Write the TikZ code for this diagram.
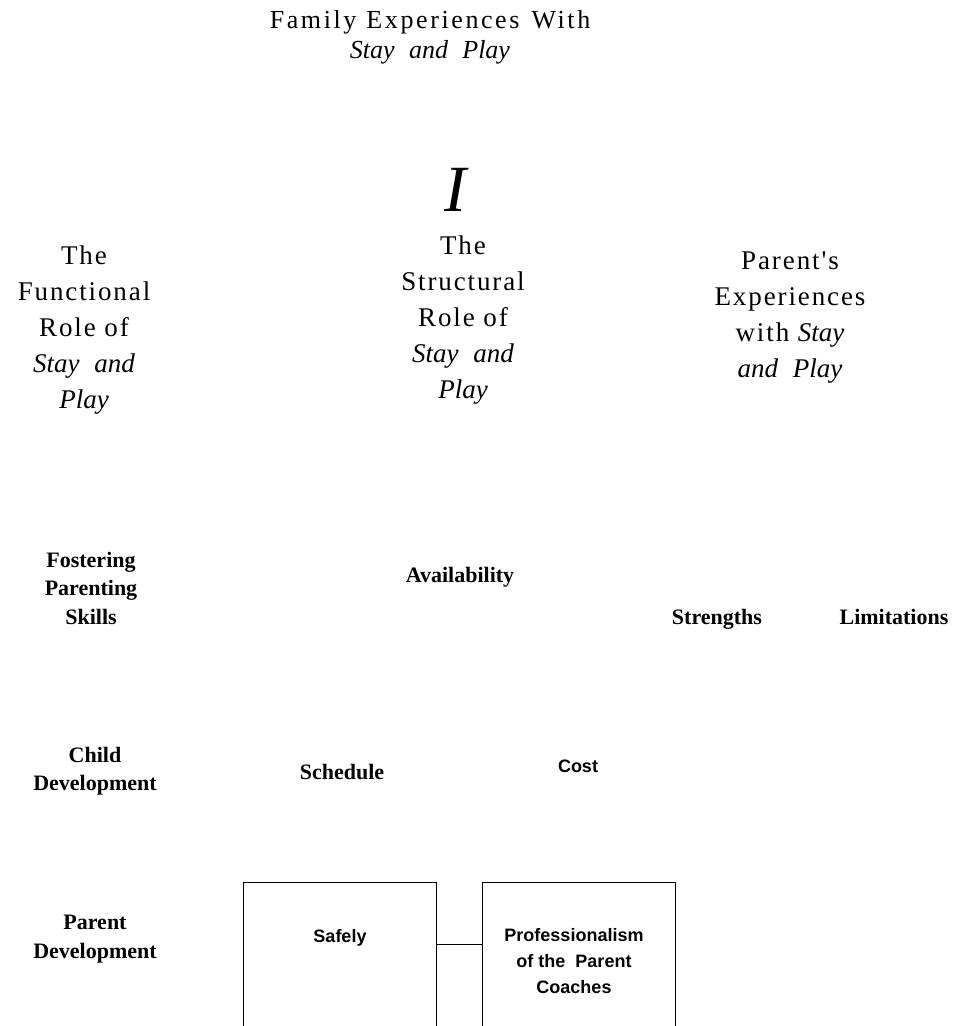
\documentclass[tikz,border=0pt]{standalone}
\usepackage{fontspec}
\setmainfont{Liberation Serif}
\newfontfamily\spaced[LetterSpace=7]{Liberation Serif}
\newfontfamily\tspaced[LetterSpace=10]{Liberation Serif}
\newfontfamily\asans{Liberation Sans}
\newcommand{\sit}[1]{{\normalfont\itshape #1}}
\newcommand{\wg}{\hspace{0.55em}}
\begin{document}
\begin{tikzpicture}[x=1pt,y=-1pt,
  head/.style={font=\spaced\fontsize{27}{36}\selectfont, align=center, inner sep=0pt},
  ttl/.style={font=\tspaced\fontsize{26}{30}\selectfont, align=center, inner sep=0pt},
  lbl/.style={font=\bfseries\fontsize{22}{28.5}\selectfont, align=center, inner sep=0pt},
  sflbl/.style={font=\asans\bfseries\fontsize{18}{26}\selectfont, align=center, inner sep=0pt},
  boxed/.style={draw, line width=0.9pt, minimum width=193pt, minimum height=180pt, anchor=north west, inner sep=0pt}]
\useasboundingbox (0,0) rectangle (954,1026);
\clip (0,0) rectangle (954,1026);
\node[ttl] (title) at (430,37) {Family\hspace{10pt}Experiences\hspace{12pt}With\\ \sit{Stay\wg and\wg Play}};
\node[font=\itshape\fontsize{66}{66}\selectfont, inner sep=0pt] (bigI) at (455,190) {I};
\node[head] (struct) at (463,320) {The\\Structural\\Role of\\ \sit{Stay\wg and}\\ \sit{Play}};
\node[head] (func) at (84,330) {The\\Functional\\Role of\\ \sit{Stay\wg and}\\ \sit{Play}};
\node[head] (parent) at (790,318) {Parent's\\Experiences\\with \sit{Stay}\\ \sit{and\wg Play}};
\node[lbl] (foster) at (91,588) {Fostering\\Parenting\\Skills};
\node[lbl, anchor=base] (avail) at (460,582) {Availability};
\node[lbl, anchor=base] (strength) at (717,624) {Strengths};
\node[lbl, anchor=base] (limit) at (894,624) {Limitations};
\node[lbl] (child) at (95,771) {Child\\Development};
\node[lbl, anchor=base] (sched) at (342,779) {Schedule};
\node[sflbl, anchor=base] (cost) at (578,772) {Cost};
\node[lbl] (pdev) at (95,939) {Parent\\Development};
\node[boxed] (sbox) at (243,882) {};
\node[boxed] (pbox) at (482,882) {};
\node[sflbl, anchor=base] (safely) at (340,942) {Safely};
\node[sflbl] (prof) at (574,961) {Professionalism\\of the\ \ Parent\\Coaches};
\draw[line width=0.9pt] (sbox.east |- 0,944) -- (pbox.west |- 0,944);
\end{tikzpicture}
\end{document}
